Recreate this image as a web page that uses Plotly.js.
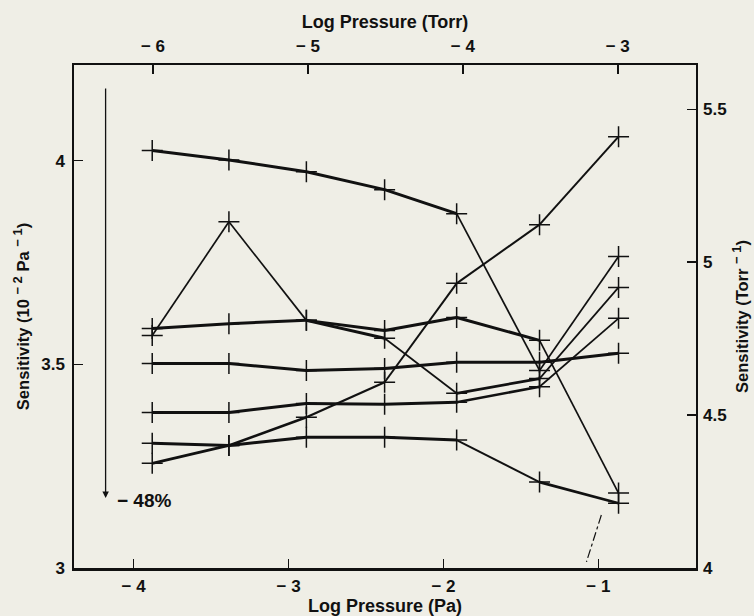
<!DOCTYPE html>
<html><head><meta charset="utf-8">
<script src="https://cdn.plot.ly/plotly-3.0.1.min.js"></script>
<style>html,body{margin:0;padding:0;background:#efeee6;}</style>
</head><body>
<div id="chart" style="width:754px;height:616px;"></div>
<script>
// ---- data ----
const PRESSURE_PA = [-3.88, -3.385, -2.885, -2.38, -1.915, -1.38, -0.87]; // log pressure (Pa)
const S_A = [4.025, 4.002, 3.973, 3.929, 3.870, 3.485, 3.765];
const S_R = [3.257, 3.301, 3.370, 3.456, 3.699, 3.843, 4.059];
const S_P = [3.571, 3.850, 3.608, 3.564, 3.429, 3.465, 3.689];
const S_F = [3.588, 3.600, 3.608, 3.583, 3.615, 3.559, 3.184];
const S_5 = [3.502, 3.502, 3.485, 3.490, 3.505, 3.505, 3.527];
const S_4 = [3.382, 3.382, 3.404, 3.402, 3.407, 3.445, 3.613];
const S_B = [3.306, 3.301, 3.321, 3.321, 3.314, 3.211, 3.159];
const PA_TICKS = [-4, -3, -2, -1];
const TORR_TICKS = [-6, -5, -4, -3];
const SENS_PA_TICKS = [3, 3.5, 4];
const SENS_TORR_TICKS = [4, 4.5, 5, 5.5];
const TORR_OFFSET = 2.125;          // log10(133.3 Pa/Torr)
const SENS_FACTOR = 133.3 / 100;    // 10^-2 Pa^-1 -> Torr^-1
const DROP_LABEL = '− 48%';

// ---- styles ----
const INK = '#111111';
const BG = '#efeee6';
const THICK = 3, THIN = 1.7;
const SERIES = [
  {y: S_A, w: [THICK, THICK, THICK, THICK, THIN, THIN]},
  {y: S_R, w: [2.8, 2.6, 2.3, 2, 2, 2]},
  {y: S_P, w: [THIN, THIN, THICK, THIN, 2.8, THIN]},
  {y: S_F, w: [THICK, THICK, THICK, THICK, THICK, THIN]},
  {y: S_5, w: [THICK, THICK, THICK, THICK, THICK, THICK]},
  {y: S_4, w: [THICK, THICK, THICK, THICK, 2.6, THIN]},
  {y: S_B, w: [THICK, THICK, THICK, THICK, 1.9, 2.8]}
];
const X_RANGE = [-4.385, -0.37];
const Y_RANGE = [3, 4.235];
const FONT = 'Liberation Sans, Arial, Helvetica, sans-serif';

const minusText = v => v < 0 ? '− ' + Math.abs(v) : String(v);
const sup = t => '<sup><span style="font-size:13px">' + t + '</span></sup>';

const traces = [];
SERIES.forEach(s => {
  for (let i = 0; i < PRESSURE_PA.length - 1; i++) {
    traces.push({
      x: PRESSURE_PA.slice(i, i + 2), y: s.y.slice(i, i + 2),
      type: 'scatter', mode: 'lines', hoverinfo: 'skip', showlegend: false,
      line: {color: INK, width: s.w[i]}
    });
  }
  traces.push({
    x: PRESSURE_PA, y: s.y, type: 'scatter', mode: 'markers', showlegend: false,
    marker: {symbol: 'cross-thin', size: 15, color: INK, line: {color: INK, width: 1.5}}
  });
});
// anchor trace for the secondary (Torr) axes
traces.push({
  x: X_RANGE.map(v => v - TORR_OFFSET), y: Y_RANGE.map(v => v * SENS_FACTOR),
  xaxis: 'x2', yaxis: 'y2', type: 'scatter', mode: 'markers',
  marker: {opacity: 0}, hoverinfo: 'skip', showlegend: false
});

const tickFont = {family: FONT, size: 17, color: INK, weight: 'bold'};
const titleFont = {family: FONT, size: 18, color: INK, weight: 'bold'};
const yTitleFont = {family: FONT, size: 16.5, color: INK, weight: 'bold'};
const common = {ticks: 'inside', ticklen: 9, tickwidth: 1.5, tickcolor: INK,
  showgrid: false, zeroline: false, showline: true, linecolor: INK, tickfont: tickFont};

const layout = {
  width: 754, height: 616,
  margin: {l: 74, r: 58, t: 65, b: 48, pad: 0},
  paper_bgcolor: BG, plot_bgcolor: BG,
  showlegend: false,
  xaxis: Object.assign({}, common, {
    range: X_RANGE, tickvals: PA_TICKS, ticktext: PA_TICKS.map(minusText),
    linewidth: 2.5, side: 'bottom', ticklabelstandoff: 1,
    title: {text: 'Log Pressure (Pa)', font: titleFont, standoff: 2}
  }),
  xaxis2: Object.assign({}, common, {
    range: X_RANGE.map(v => v - TORR_OFFSET), tickvals: TORR_TICKS, ticktext: TORR_TICKS.map(minusText),
    overlaying: 'x', side: 'top', anchor: 'y', linewidth: 2.2, ticklabelstandoff: 4,
    title: {text: 'Log Pressure (Torr)', font: titleFont, standoff: 4}
  }),
  yaxis: Object.assign({}, common, {
    range: Y_RANGE, tickvals: SENS_PA_TICKS, ticktext: SENS_PA_TICKS.map(String),
    linewidth: 1.6, ticklabelstandoff: 4,
    title: {text: 'Sensitivity (10 ' + sup('− 2') + ' Pa ' + sup('− 1') + ')', font: yTitleFont, standoff: 7}
  }),
  yaxis2: Object.assign({}, common, {
    range: Y_RANGE.map(v => v * SENS_FACTOR), tickvals: SENS_TORR_TICKS, ticktext: SENS_TORR_TICKS.map(String),
    overlaying: 'y', side: 'right', anchor: 'x', linewidth: 1.6, ticklabelstandoff: 2,
    title: {text: 'Sensitivity (Torr ' + sup('− 1') + ')', font: yTitleFont, standoff: 11}
  }),
  annotations: [
    {x: -4.181, y: 3.172, ax: -4.181, ay: 4.181, xref: 'x', yref: 'y', axref: 'x', ayref: 'y',
     text: '', showarrow: true, arrowhead: 2, arrowsize: 1, arrowwidth: 1.3, arrowcolor: INK},
    {x: -4.12, y: 3.165, xref: 'x', yref: 'y', xanchor: 'left', yanchor: 'middle',
     text: DROP_LABEL, showarrow: false, font: {family: FONT, size: 19, color: INK, weight: 'bold'}}
  ],
  shapes: [
    {type: 'line', xref: 'x', yref: 'y', x0: -0.981, y0: 3.130, x1: -1.077, y1: 3.015,
     line: {color: INK, width: 1.2, dash: 'dashdot'}}
  ]
};

Plotly.newPlot('chart', traces, layout, {staticPlot: true, displayModeBar: false});
</script>
</body></html>
